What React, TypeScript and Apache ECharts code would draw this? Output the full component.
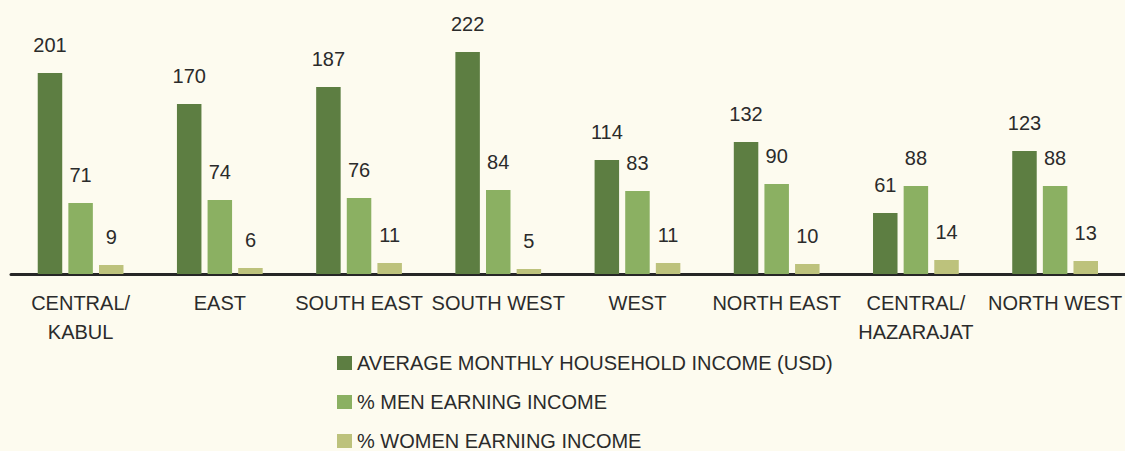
import React, { useEffect, useRef } from "react";
import * as echarts from "echarts";

const categories = [
  "CENTRAL/\nKABUL",
  "EAST",
  "SOUTH EAST",
  "SOUTH WEST",
  "WEST",
  "NORTH EAST",
  "CENTRAL/\nHAZARAJAT",
  "NORTH WEST",
];
const avgIncome = [201, 170, 187, 222, 114, 132, 61, 123];
const menEarning = [71, 74, 76, 84, 83, 90, 88, 88];
const womenEarning = [9, 6, 11, 5, 11, 10, 14, 13];
const seriesNames = [
  "AVERAGE MONTHLY HOUSEHOLD INCOME (USD)",
  "% MEN EARNING INCOME",
  "% WOMEN EARNING INCOME",
];

const FONT = "'Liberation Sans', Arial, Helvetica, sans-serif";
const TEXT = "#2b2b2b";
const colors = ["#5d7e42", "#8bb062", "#bdc27c"];

export default function App() {
  const ref = useRef<HTMLDivElement>(null);
  useEffect(() => {
    document.body.style.margin = "0";
    const chart = echarts.init(ref.current!, null, { renderer: "svg" });
    const mk = (name: string, data: number[], i: number) => ({
      name,
      type: "bar",
      data,
      barWidth: 24.5,
      barGap: "25%",
      itemStyle: { color: colors[i] },
      label: {
        show: true,
        position: "top",
        distance: 18,
        fontSize: 20,
        fontFamily: FONT,
        color: TEXT,
      },
    });
    chart.setOption({
      animation: false,
      backgroundColor: "#fdfbef",
      textStyle: { fontFamily: FONT },
      grid: { left: 11, right: -2, top: 24, bottom: 177, containLabel: false },
      legend: {
        orient: "vertical",
        left: 337,
        top: 353,
        height: 140,
        padding: 0,
        itemWidth: 15,
        itemHeight: 14,
        itemGap: 19,
        icon: "rect",
        textStyle: { fontSize: 20, color: TEXT, fontFamily: FONT },
        data: seriesNames,
      },
      xAxis: {
        type: "category",
        data: categories,
        axisLine: { lineStyle: { color: "#262626", width: 3 } },
        axisTick: { show: false },
        axisLabel: {
          fontSize: 20,
          lineHeight: 29,
          color: TEXT,
          margin: 14,
          interval: 0,
          fontFamily: FONT,
        },
      },
      yAxis: {
        type: "value",
        min: 0,
        max: 250,
        show: false,
        splitLine: { show: false },
      },
      series: [
        mk(seriesNames[0], avgIncome, 0),
        mk(seriesNames[1], menEarning, 1),
        mk(seriesNames[2], womenEarning, 2),
      ],
    });
    return () => chart.dispose();
  }, []);
  return <div ref={ref} style={{ width: 1125, height: 451, position: "absolute", left: 0, top: 0 }} />;
}
